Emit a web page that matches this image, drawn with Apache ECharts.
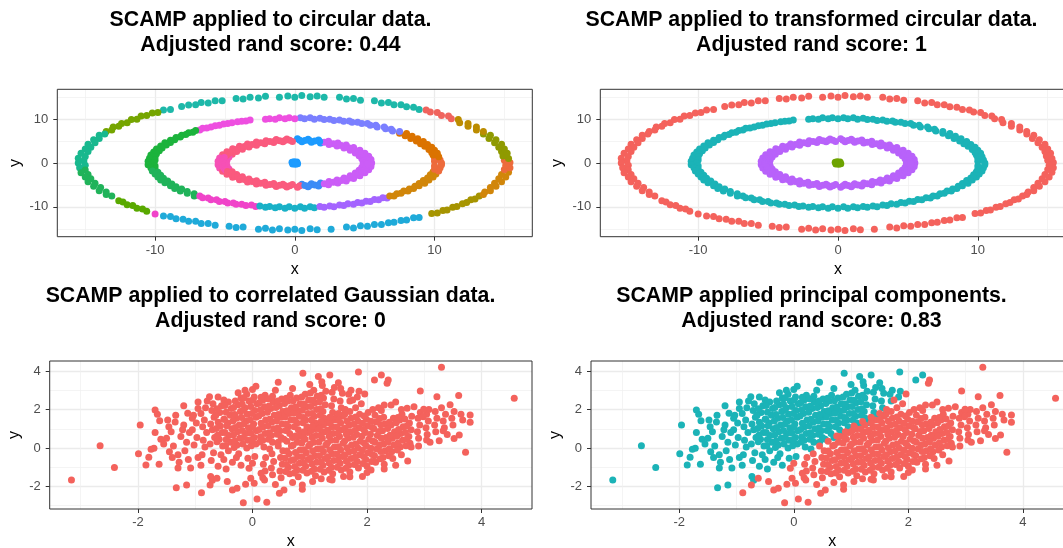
<!DOCTYPE html>
<html>
<head>
<meta charset="utf-8">
<title>SCAMP clustering</title>
<script src="https://cdn.jsdelivr.net/npm/echarts@6/dist/echarts.min.js"></script>
<style>
html, body { margin: 0; padding: 0; background: #fff; }
#chart { width: 1063px; height: 548px; }
</style>
</head>
<body>
<div id="chart"></div>
<script>
// circular data, each point [x, y, cluster found by SCAMP on the raw circles]
const outerRing = [
  [15.4,0.1,4],[15.0,0.6,4],[15.3,1.0,3],[14.9,1.6,3],[15.2,2.2,3],[14.8,2.6,3],[15.0,3.2,3],[14.6,3.6,3],
  [14.8,4.3,3],[14.3,4.6,3],[14.4,5.3,3],[13.9,5.6,3],[14.0,6.3,3],[13.5,6.6,3],[13.5,7.2,2],[13.0,7.5,2],
  [13.0,8.2,2],[12.4,8.4,2],[12.4,9.0,2],[11.8,9.2,2],[11.7,9.9,2],[11.2,10.1,1],[11.0,10.7,1],[10.5,10.8,1],
  [10.2,11.5,1],[9.7,11.6,1],[9.4,12.1,1],[8.9,12.2,0],[8.5,12.7,0],[8.0,12.8,0],[7.6,13.3,0],[7.1,13.3,0],
  [6.7,13.8,0],[6.2,13.7,0],[5.7,14.2,0],[4.7,14.3,0],[4.2,14.7,0],[3.7,14.6,0],[3.2,15.0,0],[2.1,15.0,0],
  [1.6,15.3,0],[1.1,15.1,0],[0.5,15.4,0],[0.0,15.0,0],[-0.5,15.3,0],[-1.1,15.0,0],[-2.1,15.2,0],[-2.6,14.8,0],
  [-3.2,15.0,0],[-3.7,14.6,0],[-4.2,14.7,0],[-5.2,14.2,0],[-5.7,14.2,0],[-6.2,13.7,0],[-6.7,13.8,0],[-7.1,13.3,0],
  [-7.6,13.2,0],[-8.1,12.9,0],[-8.9,12.2,0],[-9.4,12.1,0],[-9.8,11.5,12],[-10.2,11.4,12],[-10.6,10.8,12],[-11.0,10.7,12],
  [-11.3,10.0,12],[-11.7,9.9,12],[-12.0,9.2,12],[-12.4,9.0,12],[-12.6,8.4,12],[-13.0,8.2,12],[-13.1,7.5,12],[-13.5,7.2,12],
  [-13.6,6.6,11],[-14.0,6.3,11],[-14.0,5.6,11],[-14.4,5.3,11],[-14.3,4.6,11],[-14.8,4.3,11],[-14.6,3.6,11],[-15.0,3.2,11],
  [-14.8,2.6,11],[-15.3,2.2,11],[-15.0,1.5,11],[-15.5,1.1,11],[-15.1,0.5,11],[-15.5,0.0,11],[-15.0,-0.5,11],[-15.4,-1.1,11],
  [-15.0,-1.6,10],[-15.3,-2.2,10],[-14.8,-2.6,10],[-15.0,-3.2,10],[-14.6,-3.6,10],[-14.8,-4.3,10],[-14.3,-4.6,10],[-14.4,-5.3,10],
  [-13.9,-5.6,10],[-14.0,-6.3,10],[-13.5,-6.6,10],[-13.5,-7.2,10],[-13.1,-7.5,10],[-12.6,-8.6,9],[-12.3,-8.9,9],[-12.0,-9.5,9],
  [-11.6,-9.7,9],[-11.3,-10.3,9],[-10.9,-10.5,9],[-10.6,-11.0,9],[-10.0,-11.6,8],[-9.4,-12.1,7],[-8.9,-12.2,7],[-8.5,-12.7,7],
  [-8.0,-12.8,7],[-7.6,-13.3,7],[-7.1,-13.3,7],[-6.7,-13.8,7],[-6.2,-13.8,7],[-5.7,-14.2,7],[-4.7,-14.4,7],[-4.2,-14.7,7],
  [-3.7,-14.6,7],[-2.6,-15.1,7],[-2.1,-14.9,7],[-1.6,-15.3,7],[-1.1,-15.0,7],[-0.5,-15.3,7],[0.0,-15.1,7],[0.5,-15.4,7],
  [1.1,-15.0,7],[1.6,-15.2,7],[2.6,-15.1,7],[3.7,-14.6,7],[4.2,-14.8,7],[4.7,-14.3,7],[5.2,-14.4,7],[5.7,-14.0,7],
  [6.2,-14.0,7],[6.7,-13.6,7],[7.1,-13.5,7],[7.6,-13.1,7],[8.0,-13.0,7],[8.5,-12.5,7],[8.9,-12.4,7],[9.8,-11.5,6],
  [10.2,-11.4,6],[10.6,-10.8,6],[10.9,-10.7,6],[11.3,-10.1,6],[11.6,-9.9,6],[12.0,-9.3,6],[12.3,-9.0,6],[12.6,-8.4,6],
  [12.9,-8.2,6],[13.2,-7.5,6],[13.5,-7.2,5],[13.6,-6.6,5],[14.0,-6.3,5],[14.0,-5.6,5],[14.4,-5.3,5],[14.3,-4.6,5],
  [14.8,-4.3,5],[14.6,-3.6,5],[15.1,-3.2,5],[14.8,-2.6,5],[15.3,-2.1,5],[15.0,-1.5,4],[15.4,-1.1,4],[15.1,-0.5,4]
];
const middleRing = [
  [10.5,0.0,4],[10.0,0.4,4],[10.4,0.7,4],[10.0,1.1,4],[10.3,1.4,15],[9.9,1.8,15],[10.2,2.2,15],[9.8,2.4,15],
  [10.0,2.9,15],[9.6,3.1,15],[9.8,3.6,15],[9.3,3.8,15],[9.5,4.2,15],[9.0,4.4,15],[9.2,4.9,15],[8.7,5.0,15],
  [8.8,5.5,15],[8.3,5.6,15],[8.4,6.1,15],[7.9,6.2,15],[8.0,6.7,15],[7.5,6.8,15],[7.5,7.2,14],[7.0,7.3,14],
  [6.9,7.7,14],[6.5,7.8,14],[6.4,8.2,14],[5.9,8.2,14],[5.8,8.6,14],[5.4,8.6,14],[5.2,9.0,14],[4.8,9.0,14],
  [4.5,9.3,14],[4.1,9.3,14],[3.9,9.6,14],[3.5,9.5,14],[3.2,9.8,14],[2.8,9.7,14],[2.5,10.0,14],[2.1,9.9,14],
  [1.8,10.2,14],[1.4,10.0,14],[1.1,10.3,14],[0.7,10.1,14],[0.4,10.3,14],[0.0,10.1,13],[-0.4,10.3,13],[-0.7,10.1,13],
  [-1.1,10.3,13],[-1.4,10.0,13],[-1.8,10.1,13],[-2.1,10.0,13],[-3.2,9.8,13],[-3.5,9.6,13],[-3.8,9.5,13],[-4.1,9.4,13],
  [-4.5,9.2,13],[-4.8,9.0,13],[-5.1,8.9,13],[-5.4,8.6,13],[-5.7,8.5,13],[-6.0,8.2,13],[-6.3,8.0,13],[-6.6,7.9,13],
  [-6.8,7.5,13],[-7.1,7.4,18],[-7.3,7.0,18],[-7.6,6.9,18],[-7.8,6.5,18],[-8.1,6.3,18],[-8.2,5.9,18],[-8.5,5.8,18],
  [-8.6,5.3,18],[-8.9,5.2,18],[-8.9,4.7,18],[-9.3,4.6,18],[-9.2,4.1,18],[-9.6,3.9,18],[-9.5,3.4,18],[-9.9,3.2,18],
  [-9.7,2.8,18],[-10.1,2.5,18],[-9.9,2.1,18],[-10.3,1.8,18],[-10.0,1.4,18],[-10.4,1.1,18],[-10.0,0.7,18],[-10.5,0.4,18],
  [-10.1,0.0,18],[-10.5,-0.4,18],[-10.0,-0.7,18],[-10.3,-1.1,18],[-10.0,-1.4,18],[-10.2,-1.8,10],[-9.8,-2.1,10],[-10.0,-2.5,10],
  [-9.6,-2.8,10],[-9.8,-3.2,10],[-9.4,-3.5,10],[-9.6,-3.9,10],[-9.1,-4.1,10],[-9.3,-4.5,10],[-8.8,-4.8,10],[-8.9,-5.2,10],
  [-8.5,-5.4,10],[-8.6,-5.8,10],[-8.1,-5.9,10],[-8.2,-6.4,10],[-7.7,-6.5,10],[-7.7,-6.9,10],[-7.2,-7.0,10],[-7.2,-7.5,10],
  [-6.8,-7.5,8],[-6.6,-7.9,8],[-6.2,-8.0,8],[-6.0,-8.4,8],[-5.6,-8.4,8],[-5.4,-8.8,8],[-5.0,-8.8,8],[-4.8,-9.1,8],
  [-4.4,-9.1,8],[-4.2,-9.4,8],[-3.8,-9.4,8],[-3.5,-9.7,8],[-3.1,-9.6,8],[-2.8,-9.9,8],[-2.5,-9.8,17],[-2.1,-10.1,17],
  [-1.8,-9.9,17],[-1.4,-10.2,17],[-1.1,-10.0,17],[-0.7,-10.3,17],[-0.4,-10.0,17],[0.0,-10.3,17],[0.4,-10.0,17],[0.7,-10.3,17],
  [1.1,-10.0,17],[1.4,-10.2,17],[1.8,-9.9,16],[2.1,-10.1,16],[2.5,-9.8,16],[2.8,-10.0,16],[3.2,-9.6,16],[3.5,-9.7,16],
  [3.8,-9.3,16],[4.2,-9.4,16],[4.5,-9.0,16],[4.8,-9.1,16],[5.1,-8.7,16],[5.4,-8.8,16],[5.7,-8.3,16],[6.0,-8.4,16],
  [6.3,-7.9,16],[6.6,-8.0,16],[6.8,-7.5,5],[7.1,-7.5,5],[7.3,-7.0,5],[7.6,-6.9,5],[7.8,-6.4,5],[8.1,-6.4,5],
  [8.2,-5.9,5],[8.5,-5.8,5],[8.6,-5.3,5],[8.9,-5.2,5],[8.9,-4.7,5],[9.3,-4.6,5],[9.2,-4.0,5],[9.6,-3.9,5],
  [9.5,-3.4,5],[9.9,-3.2,5],[9.7,-2.7,5],[10.1,-2.5,5],[9.9,-2.0,5],[10.3,-1.8,4],[10.0,-1.4,4],[10.4,-1.1,4],
  [10.0,-0.7,4],[10.5,-0.4,4]
];
const innerRing = [
  [5.50,0.00,21],[4.89,0.34,21],[5.45,0.77,21],[4.79,1.02,21],[5.29,1.52,21],[4.60,1.68,21],[5.02,2.24,21],[4.33,2.30,21],
  [4.66,2.91,21],[3.96,2.88,21],[4.21,3.54,21],[3.52,3.40,21],[3.68,4.09,21],[3.02,3.86,21],[3.08,4.56,21],[2.45,4.24,21],
  [2.41,4.94,21],[1.84,4.54,20],[1.70,5.23,20],[1.19,4.75,20],[0.95,5.42,20],[0.51,4.87,20],[0.19,5.50,20],
  [-0.17,4.90,19],[-0.57,5.47,19],[-0.85,4.83,19],[-1.33,5.34,19],[-1.51,4.66,19],[-2.06,5.10,19],[-2.15,4.40,19],[-2.75,4.76,19],
  [-2.74,4.06,19],[-3.39,4.33,19],[-3.28,3.64,19],[-3.96,3.82,19],[-3.75,3.15,19],[-4.45,3.23,19],[-4.16,2.60,19],[-4.86,2.58,19],
  [-4.48,1.99,19],[-5.17,1.88,19],[-4.71,1.35,23],[-5.38,1.14,23],[-4.85,0.68,23],[-5.49,0.38,23],[-4.90,0.00,23],
  [-5.49,-0.38,23],[-4.85,-0.68,23],[-5.38,-1.14,23],[-4.71,-1.35,23],[-5.17,-1.88,19],[-4.48,-1.99,19],[-4.86,-2.58,19],[-4.16,-2.60,19],
  [-4.45,-3.23,19],[-3.75,-3.15,19],[-3.96,-3.82,19],[-3.28,-3.64,19],[-3.39,-4.33,19],[-2.74,-4.06,19],[-2.75,-4.76,19],[-2.15,-4.40,19],
  [-2.06,-5.10,19],[-1.51,-4.66,19],[-1.33,-5.34,19],[-0.85,-4.83,19],[-0.57,-5.47,19],[-0.17,-4.90,19],[0.19,-5.50,19],
  [0.51,-4.87,22],[0.95,-5.42,22],[1.19,-4.75,22],[1.70,-5.23,22],[1.84,-4.54,22],
  [2.41,-4.94,21],[2.45,-4.24,21],[3.08,-4.56,21],[3.02,-3.86,21],[3.68,-4.09,21],[3.52,-3.40,21],[4.21,-3.54,21],[3.96,-2.88,21],
  [4.66,-2.91,21],[4.33,-2.30,21],[5.02,-2.24,21],[4.60,-1.68,21],[5.29,-1.52,21],[4.79,-1.02,21],[5.45,-0.77,21],[4.89,-0.34,21],
  [5.20,0.18,21],[5.17,0.54,21],[5.12,0.90,21],[5.05,1.26,21],[4.95,1.61,21],[4.82,1.95,21],[4.67,2.28,21],[4.50,2.60,21],
  [4.31,2.91,21],[4.10,3.20,21],[3.86,3.48,21],[3.61,3.74,21],[3.34,3.98,21],[3.06,4.21,21],[2.76,4.41,21],[2.44,4.59,21],
  [2.11,4.75,21],[1.78,4.89,20],[1.43,5.00,20],[1.08,5.09,20],[0.72,5.15,20],[0.36,5.19,20],
  [-0.36,5.19,19],[-0.72,5.15,19],[-1.08,5.09,19],[-1.43,5.00,19],[-1.78,4.89,19],[-2.11,4.75,19],[-2.44,4.59,19],[-2.76,4.41,19],
  [-3.06,4.21,19],[-3.34,3.98,19],[-3.61,3.74,19],[-3.86,3.48,19],[-4.10,3.20,19],[-4.31,2.91,19],[-4.50,2.60,19],[-4.67,2.28,19],
  [-4.82,1.95,19],[-4.95,1.61,19],[-5.05,1.26,23],[-5.12,0.90,23],[-5.17,0.54,23],[-5.20,0.18,23],
  [-5.20,-0.18,23],[-5.17,-0.54,23],[-5.12,-0.90,23],[-5.05,-1.26,23],[-4.95,-1.61,23],[-4.82,-1.95,19],[-4.67,-2.28,19],[-4.50,-2.60,19],
  [-4.31,-2.91,19],[-4.10,-3.20,19],[-3.86,-3.48,19],[-3.61,-3.74,19],[-3.34,-3.98,19],[-3.06,-4.21,19],[-2.76,-4.41,19],[-2.44,-4.59,19],
  [-2.11,-4.75,19],[-1.78,-4.89,19],[-1.43,-5.00,19],[-1.08,-5.09,19],[-0.72,-5.15,19],[-0.36,-5.19,19],
  [0.36,-5.19,19],[0.72,-5.15,22],[1.08,-5.09,22],[1.43,-5.00,22],[1.78,-4.89,22],[2.11,-4.75,21],[2.44,-4.59,21],[2.76,-4.41,21],
  [3.06,-4.21,21],[3.34,-3.98,21],[3.61,-3.74,21],[3.86,-3.48,21],[4.10,-3.20,21],[4.31,-2.91,21],[4.50,-2.60,21],[4.67,-2.28,21],
  [4.82,-1.95,21],[4.95,-1.61,21],[5.05,-1.26,21],[5.12,-0.90,21],[5.17,-0.54,21],[5.20,-0.18,21]
];
const centerBlob = [
  [0.0,0.0,20],[0.15,0.2,20],[-0.15,-0.2,20],[0.2,-0.15,20],[-0.2,0.15,20],[0.05,-0.3,20],[-0.05,0.3,20]
];
const circularPalette = [
  '#1DB8A9','#F0645E','#BC8C00','#8F9A00','#ED6B3C','#D1860A','#A69400','#1FAAD9',
  '#F043C9','#59A900','#20B35A','#18B88E','#75A500','#EE4FE0','#7A7FFF','#DB7300',
  '#A464FF','#19B1C7','#1CB33C','#FA5A7E','#1C9BFF','#CB5DF7','#3A8BF6','#F650B6'
];
// outer, middle, inner, centre as found on the transformed data
const ringPalette = ['#F4625C', '#1BB3B7', '#B862FA', '#6DA300'];

// correlated gaussian data, each point [x, y, cluster found on principal components]
const gaussPoints = [
  [-1.02,0.15,1],[-0.97,0.55,1],[-1.05,0.95,1],[-0.98,1.3,1],[-1.03,1.7,1],[-0.95,2.05,1],
  [-0.88,-0.35,1],[-0.83,0.05,1],[-0.86,0.4,1],[-0.8,0.8,1],[-0.87,1.1,1],[-0.84,1.45,1],[-0.9,1.8,1],[-0.82,2.1,1],[-0.79,2.45,1],
  [-0.72,-0.65,1],[-0.68,-0.25,1],[-0.74,0.2,1],[-0.66,0.55,1],[-0.7,0.95,1],[-0.73,1.25,1],[-0.67,1.6,1],[-0.71,1.95,1],[-0.69,2.3,1],
  [-0.55,-0.35,1],[-0.52,0.1,1],[-0.58,0.45,1],[-0.53,0.8,1],[-0.56,1.15,1],[-0.5,1.5,1],[-0.57,1.85,1],[-0.54,2.2,1],[-0.5,2.5,1],
  [-0.42,-0.15,1],[-0.38,0.3,1],[-0.41,0.65,1],[-0.36,1.0,1],[-0.43,1.3,1],[-0.39,1.7,1],[-0.37,2.05,1],[-0.42,2.4,1],
  [-0.24,-0.3,1],[-0.27,0.15,1],[-0.22,0.5,1],[-0.26,0.85,1],[-0.23,1.2,1],[-0.28,1.55,1],[-0.21,1.9,1],[-0.25,2.25,1],[-0.2,2.6,1],
  [-0.1,0.0,1],[-0.08,0.4,1],[-0.12,0.75,1],[-0.07,1.05,1],[-0.11,1.4,1],[-0.09,1.75,1],[-0.13,2.1,1],[-0.06,2.45,1],[-0.1,2.8,1],
  [0.04,-0.45,1],[0.06,0.2,1],[0.03,0.55,1],[0.07,0.9,1],[0.02,1.25,1],[0.06,1.6,1],[0.04,1.95,1],[0.08,2.3,1],[0.03,2.65,1],
  [0.2,0.05,1],[0.18,0.4,1],[0.22,0.75,1],[0.19,1.1,1],[0.23,1.45,1],[0.17,1.8,1],[0.21,2.15,1],[0.18,2.5,1],[0.22,2.75,1],
  [0.35,0.3,1],[0.33,0.65,1],[0.37,1.0,1],[0.34,1.35,1],[0.38,1.7,1],[0.32,2.05,1],[0.36,2.4,1],[0.35,2.7,1],
  [0.5,0.55,1],[0.48,0.9,1],[0.52,1.25,1],[0.49,1.6,1],[0.53,1.9,1],[0.47,2.2,1],[0.51,2.55,1],
  [0.65,0.75,1],[0.63,1.1,1],[0.67,1.45,1],[0.64,1.8,1],[0.68,2.1,1],[0.62,2.45,1],[0.66,2.75,1],
  [0.8,0.95,1],[0.78,1.3,1],[0.82,1.65,1],[0.79,1.95,1],[0.83,2.3,1],[0.77,2.6,1],
  [0.95,1.1,1],[0.93,1.45,1],[0.97,1.8,1],[0.94,2.15,1],[0.98,2.5,1],[0.92,2.8,1],
  [1.1,1.3,1],[1.08,1.65,1],[1.12,2.0,1],[1.09,2.35,1],[1.13,2.7,1],[1.07,3.0,1],
  [1.25,1.55,1],[1.23,1.9,1],[1.27,2.25,1],[1.24,2.6,1],[1.28,2.95,1],[1.22,3.25,1],
  [1.4,1.85,1],[1.38,2.2,1],[1.42,2.55,1],[1.39,2.9,1],[1.43,3.15,1],
  [1.55,2.1,1],[1.53,2.45,1],[1.57,2.85,1],[1.54,3.1,1],
  [1.7,2.45,1],[1.68,2.8,1],[1.72,3.0,1],[1.86,2.95,1],[1.83,2.65,1],
  [-0.62,0.32,1],[-0.61,0.66,1],[-0.63,1.02,1],[-0.6,1.34,1],[-0.64,1.71,1],[-0.62,2.04,1],
  [-0.47,0.12,1],[-0.46,0.44,1],[-0.48,0.81,1],[-0.45,1.16,1],[-0.49,1.49,1],[-0.46,1.86,1],[-0.48,2.21,1],
  [-0.32,0.02,1],[-0.31,0.36,1],[-0.33,0.69,1],[-0.3,1.06,1],[-0.34,1.41,1],[-0.31,1.74,1],[-0.33,2.11,1],[-0.3,2.44,1],
  [-0.17,0.21,1],[-0.16,0.54,1],[-0.18,0.91,1],[-0.15,1.26,1],[-0.19,1.59,1],[-0.16,1.96,1],[-0.18,2.29,1],[-0.15,2.62,1],
  [-0.02,0.12,1],[-0.01,0.41,1],[-0.03,0.76,1],[0.0,1.09,1],[-0.04,1.46,1],[-0.01,1.79,1],[-0.03,2.16,1],[0.0,2.49,1],
  [0.13,0.31,1],[0.14,0.59,1],[0.12,0.96,1],[0.15,1.29,1],[0.11,1.66,1],[0.14,1.99,1],[0.12,2.36,1],[0.15,2.64,1],
  [0.28,0.46,1],[0.29,0.79,1],[0.27,1.16,1],[0.3,1.49,1],[0.26,1.86,1],[0.29,2.19,1],[0.27,2.56,1],
  [0.43,0.71,1],[0.44,1.04,1],[0.42,1.41,1],[0.45,1.74,1],[0.41,2.11,1],[0.44,2.44,1],
  [0.58,0.91,1],[0.59,1.24,1],[0.57,1.61,1],[0.6,1.94,1],[0.56,2.31,1],[0.59,2.59,1],
  [0.73,1.11,1],[0.74,1.44,1],[0.72,1.81,1],[0.75,2.14,1],[0.71,2.46,1],
  [0.88,1.31,1],[0.89,1.59,1],[0.87,1.96,1],[0.9,2.29,1],[0.86,2.66,1],
  [1.03,1.46,1],[1.04,1.79,1],[1.02,2.16,1],[1.05,2.49,1],[1.01,2.86,1],
  [1.18,1.71,1],[1.19,2.04,1],[1.17,2.41,1],[1.2,2.74,1],
  [0.3,-0.05,1],[0.45,0.3,1],[0.55,0.45,1],[0.7,0.55,1],[0.85,0.72,1],[1.0,0.95,1],[1.15,1.12,1],[1.3,1.32,1],
  [1.45,1.55,1],[1.6,1.76,1],[-0.95,2.4,1],[-1.2,2.2,1],[-0.6,2.65,1],[0.0,3.05,1],[0.4,3.0,1],[0.7,3.1,1],
  [1.0,3.3,1],[1.5,3.4,1],[-1.6,0.45,1],[-1.45,-0.2,1],[-0.5,-0.6,1],[-0.2,-0.9,1],
  [-3.16,-1.67,1],[-2.66,0.12,1],[-2.41,-1.02,1],[-1.96,1.2,1],[-1.99,-0.3,1],[-1.86,-0.89,1],[-1.63,-0.85,1],[-1.81,-0.49,1],
  [-1.77,-0.07,1],[-1.72,-0.02,1],[-1.7,1.98,1],[-1.66,1.75,1],[-1.62,1.42,1],[-1.7,0.8,1],[-1.48,1.46,1],[-1.34,1.7,1],
  [-1.13,1.81,1],[-1.46,1.11,1],[-1.33,-2.07,1],[-1.15,-1.93,1],[-0.75,2.67,1],[-0.25,2.87,1],[-0.13,3.0,1],[0.06,3.22,1],
  [0.45,3.42,1],[0.88,3.89,1],[1.35,3.8,1],[1.85,3.96,1],[2.25,3.8,1],[2.13,3.54,1],[1.15,3.72,1],[1.21,3.45,1],
  [-0.73,-1.49,1],[-0.7,-1.68,1],[-0.46,-1.09,1],[-0.08,-0.54,1],[-0.28,-0.5,1],
  [-1.5,0.5,1],[-1.42,0.85,1],[-1.38,0.1,1],[-1.3,-0.35,1],[-1.25,0.6,1],[-1.2,1.2,1],[-1.15,0.3,1],[-1.12,-0.6,1],
  [-1.08,-1.05,1],[-1.28,-0.75,1],[-1.55,0.2,1],[-1.35,1.35,1],[-1.22,0.95,1],[-1.18,-0.15,1],[-1.4,-0.5,1],[-1.05,1.55,1],
  [-1.1,0.8,1],[-1.3,-1.05,1],[-0.95,-0.5,1],[-0.9,-0.9,1],[-0.6,-0.95,1],[-0.35,-0.75,1],
  [0.18,-1.55,0],[0.22,-1.2,0],[0.19,-0.85,0],[0.23,-0.5,0],
  [0.35,-1.4,0],[0.33,-1.05,0],[0.37,-0.7,0],[0.34,-0.3,0],
  [0.5,-1.55,0],[0.48,-1.2,0],[0.52,-0.85,0],[0.49,-0.5,0],[0.53,-0.15,0],
  [0.65,-1.35,0],[0.63,-1.0,0],[0.67,-0.65,0],[0.64,-0.3,0],[0.68,0.1,0],
  [0.8,-1.5,0],[0.78,-1.15,0],[0.82,-0.8,0],[0.79,-0.45,0],[0.83,-0.1,0],[0.78,0.3,0],[0.81,0.6,0],
  [0.95,-1.3,0],[0.93,-0.95,0],[0.97,-0.6,0],[0.94,-0.25,0],[0.98,0.1,0],[0.92,0.45,0],[0.96,0.8,0],
  [1.1,-1.45,0],[1.08,-1.1,0],[1.12,-0.75,0],[1.09,-0.4,0],[1.13,-0.05,0],[1.07,0.3,0],[1.11,0.65,0],[1.09,1.0,0],
  [1.25,-1.25,0],[1.23,-0.9,0],[1.27,-0.55,0],[1.24,-0.2,0],[1.28,0.15,0],[1.22,0.5,0],[1.26,0.85,0],[1.24,1.2,0],
  [1.4,-1.35,0],[1.38,-1.0,0],[1.42,-0.65,0],[1.39,-0.3,0],[1.43,0.05,0],[1.37,0.4,0],[1.41,0.75,0],[1.39,1.1,0],[1.42,1.45,0],
  [1.55,-1.15,0],[1.53,-0.8,0],[1.57,-0.45,0],[1.54,-0.1,0],[1.58,0.25,0],[1.52,0.6,0],[1.56,0.95,0],[1.54,1.3,0],[1.57,1.65,0],
  [1.7,-1.25,0],[1.68,-0.9,0],[1.72,-0.55,0],[1.69,-0.2,0],[1.73,0.15,0],[1.67,0.5,0],[1.71,0.85,0],[1.69,1.2,0],[1.72,1.55,0],[1.7,1.9,0],
  [1.85,-1.05,0],[1.83,-0.7,0],[1.87,-0.35,0],[1.84,0.0,0],[1.88,0.35,0],[1.82,0.7,0],[1.86,1.05,0],[1.84,1.4,0],[1.87,1.75,0],
  [2.0,-0.95,0],[1.98,-0.6,0],[2.02,-0.25,0],[1.99,0.1,0],[2.03,0.45,0],[1.97,0.8,0],[2.01,1.15,0],[1.99,1.5,0],[2.02,1.85,0],
  [2.15,-0.75,0],[2.13,-0.4,0],[2.17,-0.05,0],[2.14,0.3,0],[2.18,0.65,0],[2.12,1.0,0],[2.16,1.35,0],[2.14,1.7,0],
  [2.3,-0.85,0],[2.28,-0.5,0],[2.32,-0.15,0],[2.29,0.2,0],[2.33,0.55,0],[2.27,0.9,0],[2.31,1.25,0],[2.29,1.6,0],
  [2.45,-0.55,0],[2.43,-0.2,0],[2.47,0.15,0],[2.44,0.5,0],[2.48,0.85,0],[2.42,1.2,0],[2.46,1.55,0],
  [2.6,-0.35,0],[2.58,0.05,0],[2.62,0.4,0],[2.59,0.75,0],[2.63,1.1,0],[2.57,1.45,0],[2.61,1.75,0],
  [2.75,0.25,0],[2.73,0.6,0],[2.77,0.95,0],[2.74,1.3,0],[2.78,1.65,0],
  [2.9,0.5,0],[2.88,0.85,0],[2.92,1.2,0],[2.89,1.55,0],[2.93,1.85,0],
  [3.05,0.7,0],[3.03,1.05,0],[3.07,1.4,0],[3.04,1.75,0],[3.08,2.0,0],
  [3.2,0.85,0],[3.18,1.2,0],[3.22,1.55,0],[3.19,1.9,0],
  [3.35,1.05,0],[3.33,1.4,0],[3.37,1.75,0],[3.5,1.2,0],[3.48,1.55,0],[3.52,1.9,0],[3.64,1.75,0],[3.67,1.45,0],
  [0.58,-1.22,0],[0.59,-0.86,0],[0.57,-0.52,0],[0.6,-0.16,0],
  [0.73,-1.31,0],[0.74,-0.96,0],[0.72,-0.62,0],[0.75,-0.24,0],[0.71,0.16,0],
  [0.88,-1.16,0],[0.89,-0.79,0],[0.87,-0.46,0],[0.9,-0.09,0],[0.86,0.26,0],[0.89,0.54,0],
  [1.03,-1.21,0],[1.04,-0.84,0],[1.02,-0.51,0],[1.05,-0.14,0],[1.01,0.21,0],[1.04,0.56,0],[1.02,0.89,0],
  [1.18,-1.11,0],[1.19,-0.74,0],[1.17,-0.41,0],[1.2,-0.04,0],[1.16,0.31,0],[1.19,0.66,0],[1.17,0.99,0],
  [1.33,-1.16,0],[1.34,-0.79,0],[1.32,-0.46,0],[1.35,-0.09,0],[1.31,0.26,0],[1.34,0.61,0],[1.32,0.94,0],[1.35,1.31,0],
  [1.48,-1.01,0],[1.49,-0.64,0],[1.47,-0.31,0],[1.5,0.06,0],[1.46,0.41,0],[1.49,0.76,0],[1.47,1.09,0],[1.5,1.46,0],
  [1.63,-1.06,0],[1.64,-0.69,0],[1.62,-0.36,0],[1.65,0.01,0],[1.61,0.36,0],[1.64,0.71,0],[1.62,1.04,0],[1.65,1.41,0],[1.61,1.76,0],
  [1.78,-0.86,0],[1.79,-0.49,0],[1.77,-0.16,0],[1.8,0.21,0],[1.76,0.56,0],[1.79,0.91,0],[1.77,1.24,0],[1.8,1.61,0],
  [1.93,-0.81,0],[1.94,-0.44,0],[1.92,-0.11,0],[1.95,0.26,0],[1.91,0.61,0],[1.94,0.96,0],[1.92,1.29,0],[1.95,1.66,0],
  [2.08,-0.71,0],[2.09,-0.34,0],[2.07,-0.01,0],[2.1,0.36,0],[2.06,0.71,0],[2.09,1.06,0],[2.07,1.39,0],
  [2.23,-0.56,0],[2.24,-0.19,0],[2.22,0.16,0],[2.25,0.51,0],[2.21,0.86,0],[2.24,1.21,0],[2.22,1.54,0],
  [2.38,-0.41,0],[2.39,-0.04,0],[2.37,0.31,0],[2.4,0.66,0],[2.36,1.01,0],[2.39,1.34,0],
  [2.53,-0.11,0],[2.54,0.26,0],[2.52,0.61,0],[2.55,0.96,0],[2.51,1.31,0],[2.54,1.59,0],
  [2.68,0.11,0],[2.69,0.46,0],[2.67,0.81,0],[2.7,1.16,0],[2.66,1.51,0],
  [0.45,0.1,0],[0.6,0.35,0],[0.75,0.62,0],[0.9,0.85,0],[1.05,1.15,0],[1.2,1.38,0],[1.35,1.6,0],[1.5,1.8,0],
  [1.62,2.0,0],[0.4,-1.9,0],[0.7,-1.8,0],[1.2,-1.6,0],[1.7,-1.5,0],[2.3,-1.1,0],[2.5,-0.9,0],[2.9,0.1,0],
  [3.1,0.3,0],[3.4,0.7,0],[2.2,2.1,0],[2.6,2.0,0],[2.5,2.4,0],[3.3,2.1,0],[3.45,2.25,0],[1.9,2.3,0],
  [-0.89,-2.33,0],[-0.74,-1.93,0],[-0.62,-1.58,0],[-0.44,-1.75,0],[-0.35,-2.19,0],[-0.27,-2.1,0],[-0.16,-2.85,0],[0.08,-2.66,0],
  [0.25,-2.83,0],[-0.12,-1.89,0],[-0.03,-1.58,0],[0.03,-1.84,0],[0.21,-1.67,0],[0.15,-1.32,0],[-0.06,-1.06,0],[0.0,-0.8,0],
  [0.47,-2.36,0],[0.55,-2.19,0],[0.87,-2.15,0],[0.87,-1.93,0],[1.05,-1.75,0],[1.39,-1.67,0],[1.35,-1.63,0],[1.59,-1.49,0],
  [1.92,-1.49,0],[2.0,-1.28,0],[2.07,-1.15,0],[2.71,-0.68,0],[2.77,0.05,0],[3.04,0.42,0],[3.26,0.38,0],[3.52,0.49,0],
  [3.33,0.89,0],[3.72,-0.23,0],[3.61,0.68,0],[3.8,1.72,0],[3.8,1.34,0],[2.93,2.97,0],[3.22,2.67,0],[3.6,2.73,0],
  [3.3,4.2,0],[4.57,2.59,0],[2.35,3.37,0],[2.37,3.54,0],[1.96,2.81,0],[1.75,2.5,0],[2.7,2.07,0],[2.82,2.15,0],
  [2.99,2.01,0],[2.98,1.63,0],[2.3,2.24,0],[2.42,2.24,0],[1.8,2.1,0],[2.1,2.0,0],[2.25,1.95,0]
];
const gaussPalette = ['#F4625C', '#1BB3B7'];

const ringTicks = [-10, 0, 10];
const ringMinor = [-15, -5, 5, 15];
const gaussTicks = [-2, 0, 2, 4];
const gaussMinor = [-3, -1, 1, 3];

const titles = [
  'SCAMP applied to circular data.\nAdjusted rand score: 0.44',
  'SCAMP applied to transformed circular data.\nAdjusted rand score: 1',
  'SCAMP applied to correlated Gaussian data.\nAdjusted rand score: 0',
  'SCAMP applied principal components.\nAdjusted rand score: 0.83'
];

const FONT = '"Liberation Sans", Arial, Helvetica, sans-serif';

const panels = [
  { left: 57.3, top: 89.3, width: 475, height: 147.4, x: [-17, 17], y: [-16.8, 16.8], ticks: ringTicks, minor: ringMinor, yGap: 34, titleX: 270.5, titleY: 8 },
  { left: 600.3, top: 89.3, width: 475.4, height: 147.4, x: [-17, 17], y: [-16.8, 16.8], ticks: ringTicks, minor: ringMinor, yGap: 35, titleX: 811.5, titleY: 8 },
  { left: 49.7, top: 361, width: 482.3, height: 148, x: [-3.54, 4.88], y: [-3.18, 4.53], ticks: gaussTicks, minor: gaussMinor, yGap: 27, titleX: 270.5, titleY: 283.5 },
  { left: 591, top: 361, width: 482.3, height: 148, x: [-3.54, 4.88], y: [-3.18, 4.53], ticks: gaussTicks, minor: gaussMinor, yGap: 27, titleX: 811.5, titleY: 283.5 }
];

const allRings = outerRing.concat(middleRing, innerRing, centerBlob);
const ringGroups = [outerRing, middleRing, innerRing, centerBlob];
const transformed = [];
ringGroups.forEach((g, i) => g.forEach(p => transformed.push([p[0], p[1], i])));

const seriesData = [
  { data: allRings, palette: circularPalette },
  { data: transformed, palette: ringPalette },
  { data: gaussPoints.map(p => [p[0], p[1], 0]), palette: gaussPalette },
  { data: gaussPoints, palette: gaussPalette }
];

function gridLines(p) {
  const major = { color: '#EBEBEB', width: 1.3, type: 'solid' };
  const minor = { color: '#EFEFEF', width: 0.7, type: 'solid' };
  const lines = [];
  p.ticks.forEach(v => { lines.push({ xAxis: v, lineStyle: major }); lines.push({ yAxis: v, lineStyle: major }); });
  p.minor.forEach(v => { lines.push({ xAxis: v, lineStyle: minor }); lines.push({ yAxis: v, lineStyle: minor }); });
  return lines;
}

function axis(i, p, dim) {
  const isX = dim === 'x';
  return {
    type: 'value',
    gridIndex: i,
    min: p[dim][0],
    max: p[dim][1],
    axisLine: { show: false, onZero: false },
    splitLine: { show: false },
    axisTick: { show: true, length: 4, customValues: p.ticks, lineStyle: { color: '#333333', width: 1 } },
    axisLabel: { customValues: p.ticks, color: '#4D4D4D', fontSize: 13, fontFamily: FONT, margin: isX ? 7 : 9 },
    name: dim,
    nameLocation: 'middle',
    nameGap: isX ? 25 : p.yGap,
    nameTextStyle: { color: '#000', fontSize: 16, fontFamily: FONT }
  };
}

const option = {
  backgroundColor: '#ffffff',
  animation: false,
  title: panels.map((p, i) => ({
    text: titles[i],
    left: p.titleX,
    top: p.titleY,
    textAlign: 'center',
    padding: 0,
    textStyle: { color: '#000', fontSize: 21.3, fontWeight: 'bold', fontFamily: FONT, lineHeight: 25 }
  })),
  grid: panels.map(p => ({
    left: p.left, top: p.top, width: p.width, height: p.height,
    show: true, z: 10, backgroundColor: 'transparent',
    borderColor: '#333333', borderWidth: 1,
    containLabel: false, outerBoundsMode: 'none'
  })),
  xAxis: panels.map((p, i) => axis(i, p, 'x')),
  yAxis: panels.map((p, i) => axis(i, p, 'y')),
  series: panels.map((p, i) => ({
    type: 'scatter',
    xAxisIndex: i,
    yAxisIndex: i,
    data: seriesData[i].data,
    symbolSize: 7,
    silent: true,
    itemStyle: { color: d => seriesData[i].palette[d.data[2]], opacity: 1 },
    markLine: {
      silent: true,
      z: 1,
      symbol: ['none', 'none'],
      label: { show: false },
      animation: false,
      data: gridLines(p)
    }
  }))
};

const chart = echarts.init(document.getElementById('chart'), null, { renderer: 'canvas' });
chart.setOption(option);
</script>
</body>
</html>
